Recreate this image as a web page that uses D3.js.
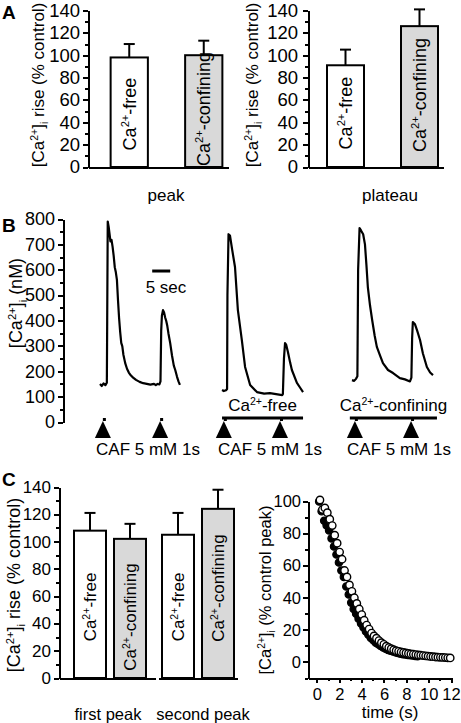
<!DOCTYPE html>
<html><head><meta charset="utf-8">
<script src="https://cdn.jsdelivr.net/npm/d3@7"></script>
<style>
body{margin:0;background:#fff}
svg{display:block}
text{font-family:Arial,"Liberation Sans",Helvetica,sans-serif;fill:#000}
.axis path,.axis line{stroke:#000;stroke-width:2;shape-rendering:crispEdges}
.axis text{font-family:Arial,"Liberation Sans",Helvetica,sans-serif;fill:#000}
</style>
</head><body>
<svg id="c" width="461" height="723"></svg>
<script>
// ---------------- DATA ----------------
const conditions = ["free", "confining"];
const peakMeans = [98, 100];
const peakErrors = [12, 13];
const plateauMeans = [91, 126];
const plateauErrors = [14, 15];
const pctMajorTicks = [0, 20, 40, 60, 80, 100, 120, 140];
const pctMinorTicks = [10, 30, 50, 70, 90, 110, 130];

const nMMajorTicks = [0, 100, 200, 300, 400, 500, 600, 700, 800];
const nMMinorTicks = [50, 150, 250, 350, 450, 550, 650, 750];
// traces: [time (s), [Ca2+]i (nM)]
const traceControl = [[0,150],[0.5,142],[1,152],[1.5,145],[1.9,155],[2.0,400],[2.15,790],[2.4,770],[2.7,735],[2.9,712],[3.2,718],[3.5,690],[3.8,655],[4.1,610],[4.4,590],[4.7,560],[5.0,480],[5.3,410],[5.6,355],[5.9,312],[6.2,298],[6.5,265],[7.0,232],[7.5,210],[8.0,195],[8.6,183],[9.2,175],[10,166],[11,158],[12,153],[13,150],[14,147],[15,150],[15.5,145],[16,150],[16.5,148],[16.8,160],[17.0,360],[17.2,420],[17.5,441],[17.8,432],[18.1,412],[18.4,398],[18.7,378],[19.0,350],[19.5,311],[20.0,262],[20.5,222],[20.9,205],[21.4,178],[21.8,160],[22.2,146]];
const traceFree = [[33.9,126],[34.4,122],[35.0,125],[35.3,130],[35.4,500],[35.7,740],[36.1,735],[36.7,680],[37.5,611],[38.3,441],[39.4,323],[40.3,217],[41.7,146],[43.6,118],[45.6,112],[47.2,114],[48.9,110],[50.6,106],[50.8,110],[51.1,250],[51.4,311],[51.7,305],[52.2,276],[52.8,235],[53.3,205],[54.7,154],[55.6,135],[56.4,118]];
const traceConfining = [[70,165],[70.6,162],[71.1,170],[71.5,180],[71.7,600],[72.1,764],[72.5,755],[73.1,740],[73.6,700],[74.0,620],[74.4,532],[75.0,460],[75.6,402],[76.3,340],[76.9,296],[77.8,262],[78.6,232],[80.0,205],[81.4,193],[83.3,173],[84.7,168],[86.1,160],[86.5,175],[86.7,330],[86.9,394],[87.5,385],[88.1,360],[88.9,323],[89.7,270],[90.8,217],[91.7,195],[92.5,185]];
const stimTimes = [0.8, 16.7, 34.4, 50.0, 70.8, 86.4];
const solutionBars = [{name:"free", from:33.9, to:56.4}, {name:"confining", from:69.4, to:93.6}];
const scaleBarSeconds = [14.5, 19.5];

const peakGroups = ["first peak", "second peak"];
const firstPeakMeans = [108, 102];
const firstPeakErrors = [13, 11];
const secondPeakMeans = [105, 124];
const secondPeakErrors = [16, 14];

const timeMajorTicks = [0, 2, 4, 6, 8, 10, 12];
const timeMinorTicks = [1, 3, 5, 7, 9, 11];
const decayMajorTicks = [0, 20, 40, 60, 80, 100];
const decayMinorTicks = [-10, 10, 30, 50, 70, 90];
// filled circles
const decayFree = [[0.20,100],[0.42,94],[0.65,88],[0.87,85],[1.09,82],[1.31,77],[1.53,72],[1.75,67],[1.97,62],[2.19,57],[2.41,53],[2.63,47],[2.85,42],[3.07,37],[3.29,33],[3.51,30],[3.73,27],[3.95,24],[4.17,21.5],[4.39,19],[4.61,17],[4.83,15],[5.05,13.5],[5.27,12],[5.49,11],[5.71,10],[5.93,9],[6.15,8.2],[6.37,7.5],[6.59,7],[6.81,6.5],[7.03,6],[7.25,5.6],[7.47,5.2],[7.69,4.9],[7.91,4.6],[8.13,4.4],[8.35,4.2],[8.57,4.0],[8.79,3.8],[9.01,3.6]];
// open circles
const decayConfining = [[0.27,101],[0.49,95],[0.71,96],[0.93,93],[1.15,89],[1.37,85],[1.59,79],[1.81,74],[2.03,68.5],[2.25,64],[2.47,57],[2.69,53],[2.91,48],[3.13,44],[3.35,40],[3.57,36.5],[3.79,33],[4.01,29.5],[4.23,26],[4.45,23],[4.67,20.5],[4.89,18],[5.11,16.2],[5.33,14.8],[5.55,13.3],[5.77,12],[5.99,11],[6.21,9.8],[6.43,9],[6.65,8.3],[6.87,7.6],[7.09,7],[7.31,6.6],[7.53,6.2],[7.75,5.9],[7.97,5.6],[8.19,5.3],[8.41,5.0],[8.63,4.8],[8.85,4.6],[9.07,4.4],[9.29,4.2],[9.51,4.0],[9.73,3.8],[9.95,3.6],[10.17,3.4],[10.39,3.3],[10.61,3.1],[10.83,3.0],[11.05,2.9],[11.27,2.8],[11.49,2.7],[11.71,2.6],[11.93,2.5]];

// ---------------- HELPERS ----------------
const svg = d3.select("#c");
svg.append("rect").attr("width",461).attr("height",723).attr("fill","#fff");
const FILL = {free:"#ffffff", confining:"#d9d9d9"};

function rich(t, parts, fs) {
  let shift = 0;
  parts.forEach(([s, k]) => {
    const target = k === "sup" ? -0.38*fs : k === "sub" ? 0.25*fs : 0;
    t.append("tspan").attr("dy", target - shift)
      .attr("font-size", k === "n" ? fs : fs*0.62).text(s);
    shift = target;
  });
  return t;
}
const caParts = {
  free: [["Ca","n"],["2+","sup"],["-free","n"]],
  confining: [["Ca","n"],["2+","sup"],["-confining","n"]]
};
// x = visual centre of the rotated glyphs
function vlabel(x, y, parts, fs) {
  const t = svg.append("text").attr("text-anchor","middle")
    .attr("transform",`translate(${x + 0.36*fs},${y}) rotate(-90)`).attr("font-size",fs);
  rich(t, parts, fs);
  return t;
}
function hlabel(x, y, parts, fs) {
  const t = svg.append("text").attr("text-anchor","middle").attr("x",x).attr("y",y).attr("font-size",fs);
  rich(t, parts, fs);
  return t;
}
function yAxis(x, scale, major, minor, fs, pad) {
  svg.append("g").attr("class","axis").attr("transform",`translate(${x},0)`)
    .call(d3.axisLeft(scale).tickValues(minor).tickSize(3).tickFormat("").tickSizeOuter(0));
  const g = svg.append("g").attr("class","axis").attr("transform",`translate(${x},0)`)
    .call(d3.axisLeft(scale).tickValues(major).tickSize(5).tickPadding(pad).tickSizeOuter(0));
  g.selectAll("text").attr("font-size",fs);
  g.selectAll("line").attr("stroke-width",1.6);
  return g;
}
function baseline(x0, x1, y) {
  svg.append("g").attr("class","axis").attr("transform",`translate(0,${y})`)
    .call(d3.axisBottom(d3.scaleLinear().range([x0,x1])).tickValues([]).tickSizeOuter(0));
}
function bars(xs, y, means, errs, labelY, fs) {
  conditions.forEach((c, i) => {
    const x = xs(c), w = xs.bandwidth(), top = y(means[i]), etop = y(means[i]+errs[i]);
    const cx = x + w/2;
    svg.append("line").attr("x1",cx).attr("x2",cx).attr("y1",top).attr("y2",etop).attr("stroke","#000").attr("stroke-width",2);
    svg.append("line").attr("x1",cx-5.5).attr("x2",cx+5.5).attr("y1",etop).attr("y2",etop).attr("stroke","#000").attr("stroke-width",2);
    svg.append("rect").attr("x",x).attr("y",top).attr("width",w).attr("height",y(0)-top)
      .attr("fill",FILL[c]).attr("stroke","#000").attr("stroke-width",2);
    vlabel(cx, labelY[i], caParts[c], fs);
  });
}
const yLabelPct = [["[Ca","n"],["2+","sup"],["]","n"],["i","sub"],[" rise (% control)","n"]];

// ---------------- PANEL A ----------------
const yA = d3.scaleLinear().domain([0,140]).range([167,10.5]);
const xA1 = d3.scaleBand().domain(conditions).range([92,241]).paddingInner(0.5).paddingOuter(0.25);
const xA2 = d3.scaleBand().domain(conditions).range([308.5,456.5]).paddingInner(0.5).paddingOuter(0.25);
yAxis(88, yA, pctMajorTicks, pctMinorTicks, 18.5, 3);
baseline(88, 228, yA(0));
bars(xA1, yA, peakMeans, peakErrors, [114,109], 18);
yAxis(308, yA, pctMajorTicks, pctMinorTicks, 18.5, 5);
baseline(308, 443, yA(0));
bars(xA2, yA, plateauMeans, plateauErrors, [113,95], 18);
vlabel(38, 85, yLabelPct, 17);
vlabel(252, 85, yLabelPct, 17);
svg.append("text").attr("x",166).attr("y",201).attr("text-anchor","middle").attr("font-size",17).text("peak");
svg.append("text").attr("x",390).attr("y",201).attr("text-anchor","middle").attr("font-size",17).text("plateau");
svg.append("text").attr("x",2).attr("y",19).attr("font-size",19).attr("font-weight","bold").text("A");

// ---------------- PANEL B ----------------
const yB = d3.scaleLinear().domain([0,800]).range([422,219]);
const tB = d3.scaleLinear().domain([0,93]).range([100,434.8]);
yAxis(63, yB, nMMajorTicks, nMMinorTicks, 18, 3);
vlabel(16, 303, [["[Ca","n"],["2+","sup"],["]","n"],["i","sub"],[" (nM)","n"]], 18);
const line = d3.line().x(d => tB(d[0])).y(d => yB(d[1]));
[traceControl, traceFree, traceConfining].forEach(tr => {
  svg.append("path").datum(tr).attr("d",line).attr("fill","none").attr("stroke","#000")
    .attr("stroke-width",2.2).attr("stroke-linejoin","round");
});
svg.append("line").attr("x1",tB(scaleBarSeconds[0])).attr("x2",tB(scaleBarSeconds[1]))
  .attr("y1",yB(595)).attr("y2",yB(595)).attr("stroke","#000").attr("stroke-width",3);
svg.append("text").attr("x",166).attr("y",293).attr("text-anchor","middle").attr("font-size",17).text("5 sec");
stimTimes.forEach(t => {
  const cx = tB(t);
  svg.append("path").attr("d",`M${cx},421 L${cx+8},438 L${cx-8},438 Z`).attr("fill","#000");
  svg.append("rect").attr("x",cx).attr("y",418).attr("width",3).attr("height",3).attr("fill","#000");
});
solutionBars.forEach(b => {
  svg.append("line").attr("x1",tB(b.from)).attr("x2",tB(b.to)).attr("y1",418).attr("y2",418)
    .attr("stroke","#000").attr("stroke-width",3);
  hlabel((tB(b.from)+tB(b.to))/2, 411, caParts[b.name], 17);
});
[148, 270, 399].forEach(x => {
  svg.append("text").attr("x",x).attr("y",455).attr("text-anchor","middle").attr("font-size",17).text("CAF 5 mM 1s");
});
svg.append("text").attr("x",2).attr("y",232).attr("font-size",19).attr("font-weight","bold").text("B");

// ---------------- PANEL C (bars) ----------------
const yC = d3.scaleLinear().domain([0,140]).range([678,487]);
const xG = d3.scaleBand().domain(peakGroups).range([66,242]);
yAxis(59, yC, pctMajorTicks, pctMinorTicks, 17, 3);
baseline(59, 155, yC(0));
baseline(158, 237, yC(0));
const groupData = {"first peak":[firstPeakMeans, firstPeakErrors, [607,617]], "second peak":[secondPeakMeans, secondPeakErrors, [607,588]]};
const groupLabelX = {"first peak":108, "second peak":203};
peakGroups.forEach(g => {
  const off = xG(g);
  const xs = d3.scaleBand().domain(conditions).range([off, off + xG.bandwidth()]).paddingInner(0.2).paddingOuter(0.2);
  bars(xs, yC, groupData[g][0], groupData[g][1], groupData[g][2], 17);
  svg.append("text").attr("x", groupLabelX[g]).attr("y",720).attr("text-anchor","middle").attr("font-size",16.5).text(g);
});
vlabel(14, 585, yLabelPct, 18);
svg.append("text").attr("x",2).attr("y",486).attr("font-size",19).attr("font-weight","bold").text("C");

// ---------------- PANEL C (decay) ----------------
const yD = d3.scaleLinear().domain([-10,100]).range([678,501.5]);
const xD = d3.scaleLinear().domain([-0.8,12]).range([308,451]);
yAxis(308, yD, decayMajorTicks, decayMinorTicks, 16.5, 2);
svg.append("g").attr("class","axis").attr("transform","translate(0,678)")
  .call(d3.axisBottom(xD).tickValues(timeMinorTicks).tickSize(3).tickFormat("").tickSizeOuter(0));
const gx = svg.append("g").attr("class","axis").attr("transform","translate(0,678)")
  .call(d3.axisBottom(xD).tickValues(timeMajorTicks).tickSize(5).tickPadding(5).tickSizeOuter(0));
gx.selectAll("text").attr("font-size",16.5);
gx.selectAll("line").attr("stroke-width",1.6);
svg.append("text").attr("x",390).attr("y",718).attr("text-anchor","middle").attr("font-size",17).text("time (s)");
vlabel(265, 590, [["[Ca","n"],["2+","sup"],["]","n"],["i","sub"],[" (% control peak)","n"]], 16.5);
svg.append("g").selectAll("circle").data(decayFree).join("circle")
  .attr("cx",d => xD(d[0])).attr("cy",d => yD(d[1])).attr("r",3.7).attr("fill","#000").attr("stroke","#000").attr("stroke-width",1.2);
svg.append("g").selectAll("circle").data(decayConfining).join("circle")
  .attr("cx",d => xD(d[0])).attr("cy",d => yD(d[1])).attr("r",3.7).attr("fill","#fff").attr("stroke","#000").attr("stroke-width",1.4);
</script>
</body></html>
